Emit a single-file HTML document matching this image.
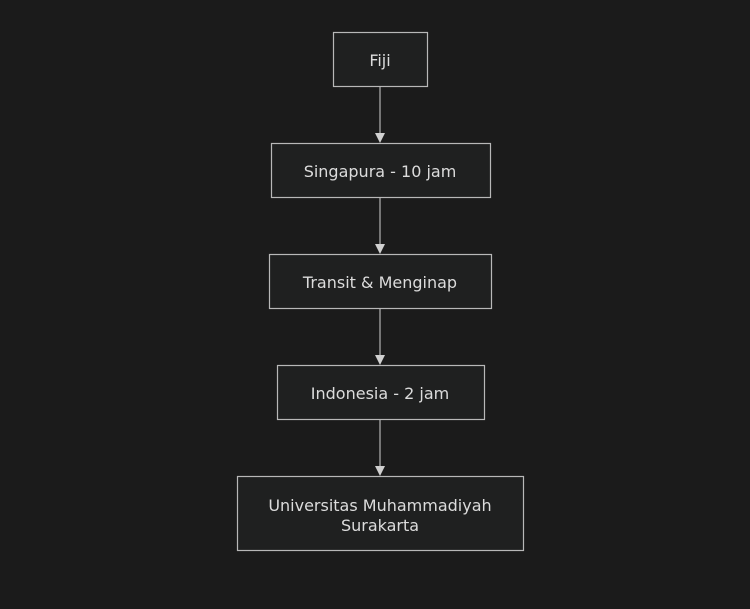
<!DOCTYPE html>
<html><head><meta charset="utf-8"><style>
html,body{margin:0;padding:0;background:#1b1b1b;}
svg{display:block}
text{font-family:"DejaVu Sans","Liberation Sans",sans-serif;font-size:16px;fill:#dcdcdc;text-anchor:middle;}
</style></head><body>
<svg width="750" height="609" viewBox="0 0 750 609">
<rect width="750" height="609" fill="#1b1b1b"/>
<defs><marker id="a" markerWidth="10" markerHeight="10" refX="9" refY="5" orient="auto" markerUnits="userSpaceOnUse"><path d="M0,0 L10,5 L0,10 z" fill="#d0d0d0"/></marker></defs>
<g stroke="#d0d0d0" stroke-width="1" fill="none">
<line x1="380" y1="87" x2="380" y2="142" marker-end="url(#a)"/>
<line x1="380" y1="198" x2="380" y2="253" marker-end="url(#a)"/>
<line x1="380" y1="309" x2="380" y2="364" marker-end="url(#a)"/>
<line x1="380" y1="420" x2="380" y2="475" marker-end="url(#a)"/>
</g>
<g fill="#1f2020" stroke="#b8b8b8" stroke-width="1.2">
<rect x="333.5" y="32.5" width="94" height="54"/>
<rect x="271.5" y="143.5" width="219" height="54"/>
<rect x="269.5" y="254.5" width="222" height="54"/>
<rect x="277.5" y="365.5" width="207" height="54"/>
<rect x="237.5" y="476.5" width="286" height="74"/>
</g>
<text x="380" y="66">Fiji</text>
<text x="380" y="177">Singapura - 10 jam</text>
<text x="380" y="288">Transit &amp; Menginap</text>
<text x="380" y="399">Indonesia - 2 jam</text>
<text x="380" y="511">Universitas Muhammadiyah</text>
<text x="380" y="531">Surakarta</text>
</svg>
</body></html>
